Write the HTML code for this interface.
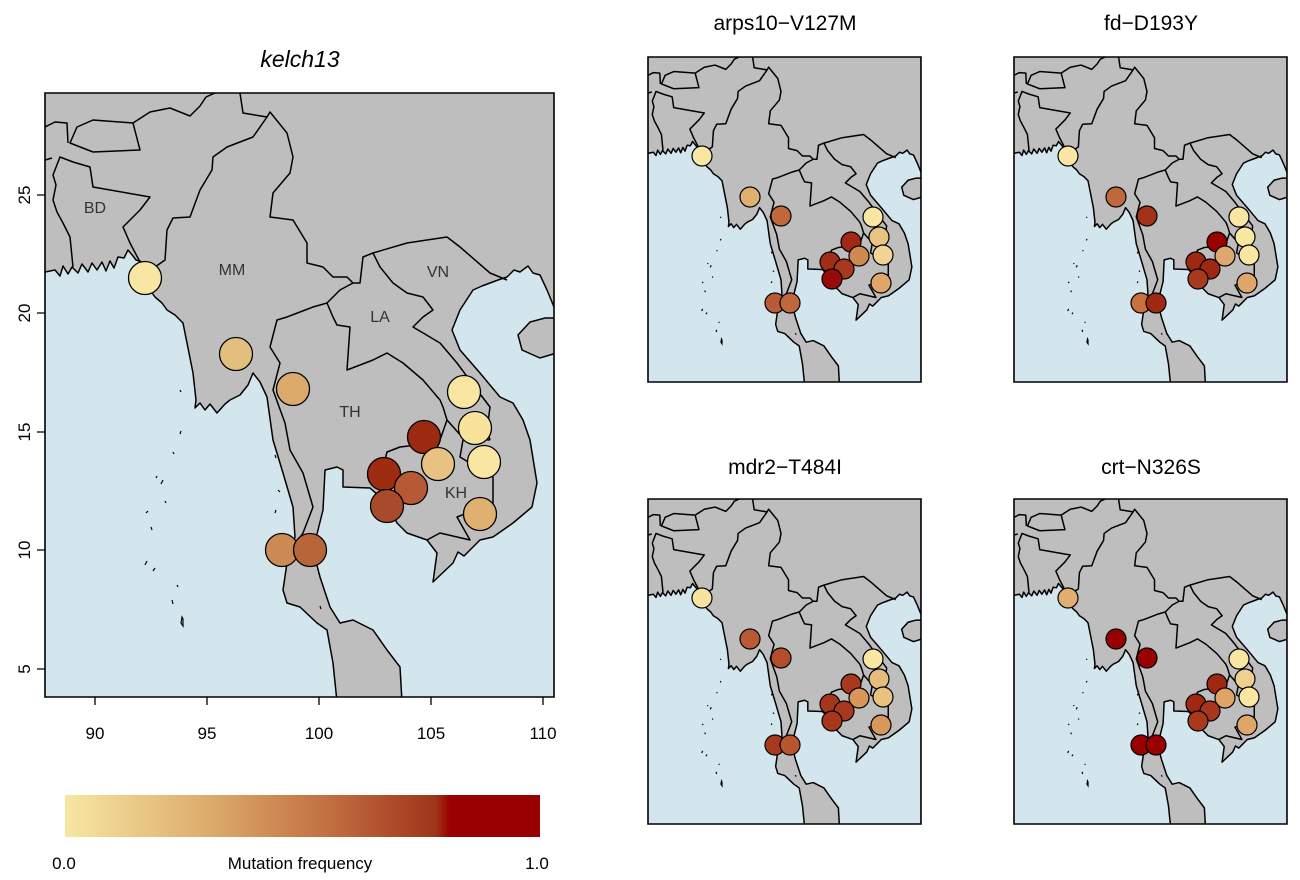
<!DOCTYPE html>
<html><head><meta charset="utf-8"><style>
html,body{margin:0;padding:0;background:#fff;}
svg{display:block;font-family:"Liberation Sans",sans-serif;}
</style></head><body>
<svg width="1300" height="880" viewBox="0 0 1300 880" xmlns="http://www.w3.org/2000/svg">
<defs>
<clipPath id="mc"><rect x="45" y="93" width="509" height="604"/></clipPath>
<linearGradient id="cb" x1="0" x2="1" y1="0" y2="0">
<stop offset="0" stop-color="#f7e6a2"/>
<stop offset="0.3" stop-color="#ddac6c"/>
<stop offset="0.55" stop-color="#c27042"/>
<stop offset="0.78" stop-color="#a0341a"/>
<stop offset="0.81" stop-color="#990000"/>
<stop offset="1" stop-color="#990000"/>
</linearGradient>
<g id="map">
<g clip-path="url(#mc)">
<rect x="45" y="93" width="509" height="604" fill="#bebebe"/>
<g fill="#d3e6ee" stroke="#000" stroke-width="1.5" stroke-linejoin="round">
<path vector-effect="non-scaling-stroke" d="M40,273 L55,270 60,276 63,266 68,274 72,267 78,273 82,264 88,272 92,263 97,270 102,262 106,271 110,261 114,268 118,257 124,258 128,250 133,256 136,260 142,262 150,290 155,297 162,303 167,310 175,315 183,323 187,343 190,358 193,373 196,400 195,408 200,403 205,410 210,404 217,413 225,404 230,400 240,395 248,385 253,373 260,382 267,397 273,440 283,473 293,507 295,537 287,563 283,590 287,603 300,607 317,623 327,630 333,663 337,702 40,702 Z"/>
<path vector-effect="non-scaling-stroke" d="M402,702 L400,667 387,650 373,630 353,620 340,623 330,607 320,577 313,550 323,510 325,470 337,467 343,470 343,487 370,488 387,503 397,523 407,533 427,540 437,553 433,582 453,563 458,552 464,556 470,550 480,540 493,537 513,523 532,507 537,483 530,440 523,420 513,403 500,397 480,373 460,350 452,330 460,310 473,290 482,286 490,283 498,280 507,277 514,270 520,272 528,266 533,273 540,275 547,290 554,307 560,307 560,702 Z"/>
</g>
<path vector-effect="non-scaling-stroke" d="M518,335 L530,322 545,318 560,318 560,352 540,358 522,350 Z" fill="#bebebe" stroke="#000" stroke-width="1.5"/>
<g fill="none" stroke="#000" stroke-width="1.5" stroke-linejoin="round">
<path vector-effect="non-scaling-stroke" d="M73,267 L70,237 63,223 57,212 53,200 56,185 53,175 60,157 73,162 90,167 93,187 150,197 140,210 123,227 130,243 140,262"/>
<path vector-effect="non-scaling-stroke" d="M70,143 L77,127 93,120 133,123 140,150 93,152 Z"/>
<path vector-effect="non-scaling-stroke" d="M45,127 L55,122 67,123 68,143 M45,160 L52,158"/>
<path vector-effect="non-scaling-stroke" d="M133,123 L150,112 170,108 190,116 200,106 206,97 215,93"/>
<path vector-effect="non-scaling-stroke" d="M240,93 L243,113 267,117 253,137 227,147 213,157 212,170 200,190 190,217 173,218 167,230 165,260 155,267"/>
<path vector-effect="non-scaling-stroke" d="M267,117 L270,112 287,133 293,157 290,173 273,193 270,217 293,220 307,243 307,263 323,267 333,277 347,277 353,283"/>
<path vector-effect="non-scaling-stroke" d="M353,283 L340,290 327,303 313,307 287,317 277,320 270,347 280,363 273,390 285,423 290,450 303,473 313,507 303,533 293,547"/>
<path vector-effect="non-scaling-stroke" d="M327,303 L333,317 337,325 350,327 347,370 373,360 387,353 403,363 423,380 440,400 443,407 447,420 440,440 417,445 400,447 387,452 383,467 380,490"/>
<path vector-effect="non-scaling-stroke" d="M353,283 L360,283 363,257 373,253 380,267 393,283 407,293 423,297 433,310 423,317 413,327 440,343 457,363 477,390 490,407 487,430 490,440"/>
<path vector-effect="non-scaling-stroke" d="M447,420 L463,438 490,440 M463,440 L460,457 493,477 493,503 457,517 470,540 440,533 427,540"/>
<path vector-effect="non-scaling-stroke" d="M373,253 L407,243 447,237 460,247 490,273 507,280"/>
</g>
<g fill="none" stroke="#000" stroke-width="1.2">
<path vector-effect="non-scaling-stroke" d="M180,434 l1,-3 M173,452 l1,2 M163,480 l-2,4 M165,501 l1,2 M146,513 l2,-2 M152,530 l-1,-3 M155,568 l-2,3 M177,585 l1,2 M172,600 l1,4 M182,617 l-1,6 l2,3 l0,-7 Z M147,561 l-2,4 M156,478 l1,-2 M180,390 l1,2 M275,455 l1,3 M278,490 l2,2 M276,510 l-1,3 M320,606 l1,3"/>
</g>
</g>
<rect x="45" y="93" width="509" height="604" fill="none" stroke="#000" stroke-width="1.6" vector-effect="non-scaling-stroke"/>
</g>
</defs>

<use href="#map"/>
<g font-size="16" fill="#333" text-anchor="middle">
<text x="95" y="213">BD</text>
<text x="232" y="275">MM</text>
<text x="380" y="322">LA</text>
<text x="438" y="277">VN</text>
<text x="350" y="417">TH</text>
<text x="456" y="498">KH</text>
</g>
<g stroke="#000" stroke-width="1.3">
<circle cx="145" cy="278" r="16.5" fill="#f8e6a2"/>
<circle cx="236" cy="354" r="16.5" fill="#e3bf7e"/>
<circle cx="293" cy="389" r="16.5" fill="#dcab6b"/>
<circle cx="464" cy="392" r="16.5" fill="#f8e6a2"/>
<circle cx="475" cy="428" r="16.5" fill="#f7e39c"/>
<circle cx="424" cy="437" r="16.5" fill="#9c2a10"/>
<circle cx="438" cy="464" r="16.5" fill="#e8c280"/>
<circle cx="484" cy="462" r="16.5" fill="#f8e6a2"/>
<circle cx="384" cy="474" r="16.5" fill="#9e2c12"/>
<circle cx="411" cy="488" r="16.5" fill="#b55a35"/>
<circle cx="387" cy="506" r="16.5" fill="#a84a2c"/>
<circle cx="480" cy="514" r="16.5" fill="#dfb070"/>
<circle cx="282" cy="550" r="16.5" fill="#cc8a55"/>
<circle cx="310" cy="550" r="16.5" fill="#b8653a"/>
</g>
<text x="300" y="67" font-size="23" font-style="italic" text-anchor="middle">kelch13</text>
<g stroke="#000" stroke-width="1.3">
<path d="M95,697v8M207,697v8M319,697v8M431,697v8M543,697v8M45,669h-8M45,550h-8M45,432h-8M45,313h-8M45,195h-8"/>
</g>
<g font-size="17" text-anchor="middle">
<text x="95" y="739">90</text><text x="207" y="739">95</text><text x="319" y="739">100</text><text x="431" y="739">105</text><text x="543" y="739">110</text>
<text transform="translate(30,669) rotate(-90)">5</text>
<text transform="translate(30,550) rotate(-90)">10</text>
<text transform="translate(30,432) rotate(-90)">15</text>
<text transform="translate(30,313) rotate(-90)">20</text>
<text transform="translate(30,195) rotate(-90)">25</text>
</g>

<rect x="65" y="795" width="475" height="42" fill="url(#cb)"/>
<g font-size="17" text-anchor="middle">
<text x="64" y="869">0.0</text>
<text x="300" y="869">Mutation frequency</text>
<text x="537" y="869">1.0</text>
</g>

<g font-size="21" text-anchor="middle">
<text x="785" y="30">arps10−V127M</text>
<text x="1151" y="30">fd−D193Y</text>
<text x="785" y="474">mdr2−T484I</text>
<text x="1151" y="474">crt−N326S</text>
</g>
<use href="#map" transform="translate(648,57) scale(0.5363,0.5381) translate(-45,-93)"/>
<use href="#map" transform="translate(1014,57) scale(0.5363,0.5381) translate(-45,-93)"/>
<use href="#map" transform="translate(648,499) scale(0.5363,0.5381) translate(-45,-93)"/>
<use href="#map" transform="translate(1014,499) scale(0.5363,0.5381) translate(-45,-93)"/>

<g stroke="#000" stroke-width="1.2">
<g transform="translate(648,57)">
<circle cx="54" cy="99" r="10" fill="#f8e6a2"/>
<circle cx="102" cy="140" r="10" fill="#e0b070"/>
<circle cx="133" cy="159" r="10" fill="#c0683c"/>
<circle cx="225" cy="160" r="10" fill="#f8e6a2"/>
<circle cx="231" cy="180" r="10" fill="#e8c482"/>
<circle cx="203" cy="185" r="10" fill="#a02814"/>
<circle cx="211" cy="199" r="10" fill="#cf8a52"/>
<circle cx="235" cy="198" r="10" fill="#f0d495"/>
<circle cx="182" cy="205" r="10" fill="#a02e16"/>
<circle cx="196" cy="212" r="10" fill="#a8381e"/>
<circle cx="184" cy="222" r="10" fill="#990a0a"/>
<circle cx="233" cy="226" r="10" fill="#dea66a"/>
<circle cx="127" cy="246" r="10" fill="#b85a36"/>
<circle cx="142" cy="246" r="10" fill="#c0683c"/>
</g>
<g transform="translate(1014,57)">
<circle cx="54" cy="99" r="10" fill="#f8e6a2"/>
<circle cx="102" cy="140" r="10" fill="#c0683c"/>
<circle cx="133" cy="159" r="10" fill="#a3321a"/>
<circle cx="225" cy="160" r="10" fill="#f8e6a2"/>
<circle cx="231" cy="180" r="10" fill="#f8e6a2"/>
<circle cx="203" cy="185" r="10" fill="#990000"/>
<circle cx="211" cy="199" r="10" fill="#e0a870"/>
<circle cx="235" cy="198" r="10" fill="#f8e6a2"/>
<circle cx="182" cy="205" r="10" fill="#a02812"/>
<circle cx="196" cy="212" r="10" fill="#a02812"/>
<circle cx="184" cy="222" r="10" fill="#a8381e"/>
<circle cx="233" cy="226" r="10" fill="#dea66a"/>
<circle cx="127" cy="246" r="10" fill="#c8703e"/>
<circle cx="142" cy="246" r="10" fill="#a02812"/>
</g>
<g transform="translate(648,499)">
<circle cx="54" cy="99" r="10" fill="#f8e2a0"/>
<circle cx="102" cy="140" r="10" fill="#b85a34"/>
<circle cx="133" cy="159" r="10" fill="#b24e2c"/>
<circle cx="225" cy="160" r="10" fill="#f8e6a2"/>
<circle cx="231" cy="180" r="10" fill="#e6bc7c"/>
<circle cx="203" cy="185" r="10" fill="#a8381e"/>
<circle cx="211" cy="199" r="10" fill="#d89658"/>
<circle cx="235" cy="198" r="10" fill="#e8c27e"/>
<circle cx="182" cy="205" r="10" fill="#a8361c"/>
<circle cx="196" cy="212" r="10" fill="#a8381e"/>
<circle cx="184" cy="222" r="10" fill="#a8361c"/>
<circle cx="233" cy="226" r="10" fill="#d8985c"/>
<circle cx="127" cy="246" r="10" fill="#a8381e"/>
<circle cx="142" cy="246" r="10" fill="#b8552e"/>
</g>
<g transform="translate(1014,499)">
<circle cx="54" cy="99" r="10" fill="#e2ae70"/>
<circle cx="102" cy="140" r="10" fill="#990000"/>
<circle cx="133" cy="159" r="10" fill="#990000"/>
<circle cx="225" cy="160" r="10" fill="#f8e6a2"/>
<circle cx="231" cy="180" r="10" fill="#f0d090"/>
<circle cx="203" cy="185" r="10" fill="#a02812"/>
<circle cx="211" cy="199" r="10" fill="#e0a468"/>
<circle cx="235" cy="198" r="10" fill="#f8e6a2"/>
<circle cx="182" cy="205" r="10" fill="#a02812"/>
<circle cx="196" cy="212" r="10" fill="#a8361c"/>
<circle cx="184" cy="222" r="10" fill="#a8381e"/>
<circle cx="233" cy="226" r="10" fill="#dea66a"/>
<circle cx="127" cy="246" r="10" fill="#990000"/>
<circle cx="142" cy="246" r="10" fill="#990000"/>
</g>
</g>
</svg>
</body></html>
